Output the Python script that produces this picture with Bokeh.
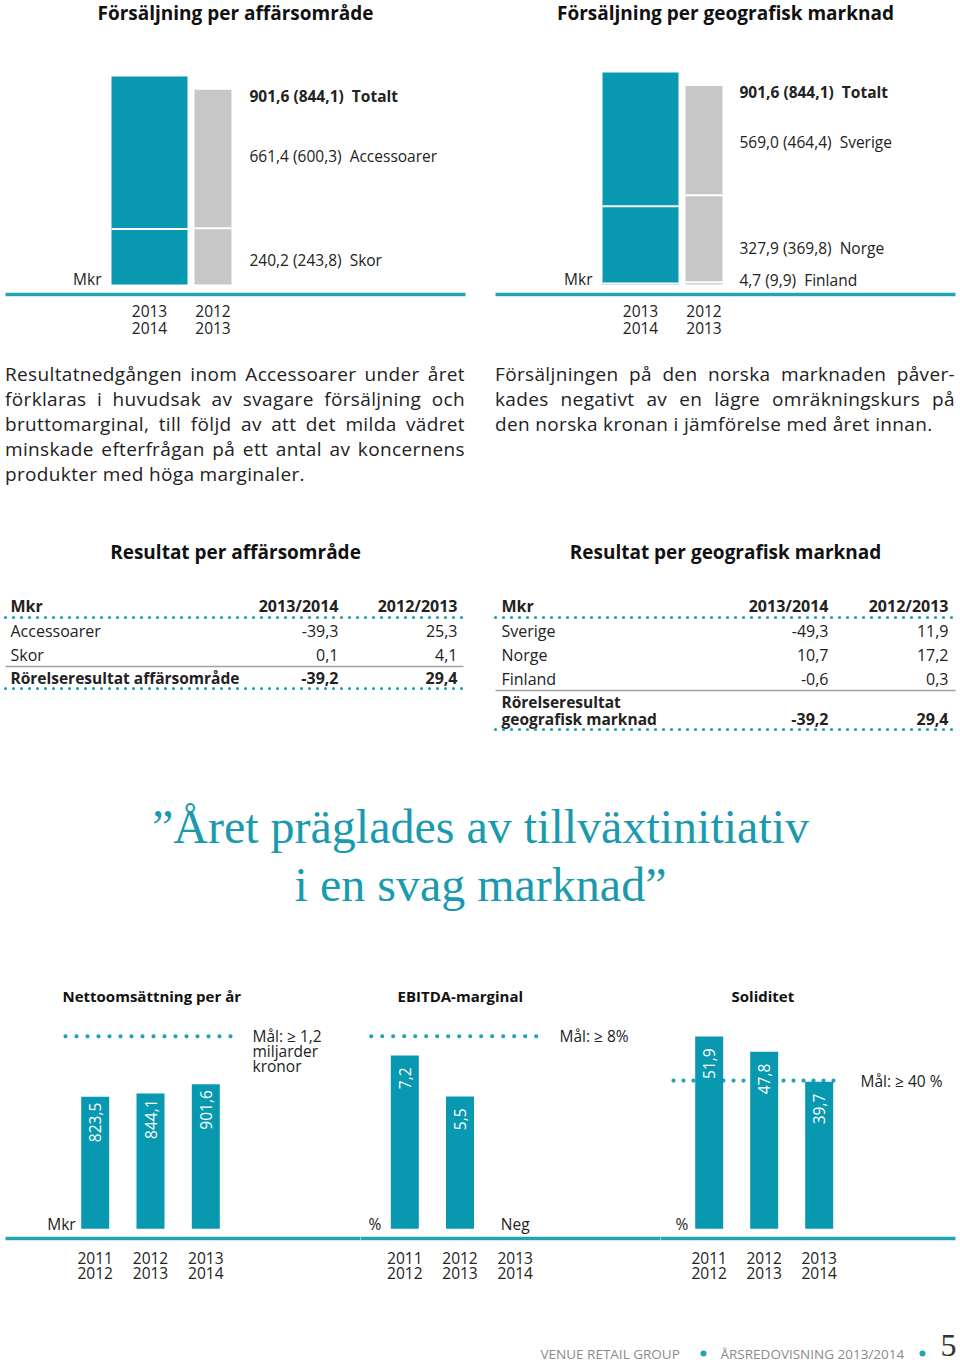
import numpy as np
from bokeh.plotting import figure
from bokeh.models import Range1d, Div
from bokeh.layouts import column, row
from bokeh.core.properties import value
from bokeh.embed import file_html
from bokeh.resources import INLINE

# ---------------- data ----------------
periods_top = ["2013/2014", "2012/2013"]
area_names = ["Skor", "Accessoarer"]            # stacked bottom -> top
area_cur = [240.2, 661.4]
area_prev = [243.8, 600.3]
area_total = [901.6, 844.1]

geo_names = ["Finland", "Norge", "Sverige"]     # stacked bottom -> top
geo_cur = [4.7, 327.9, 569.0]
geo_prev = [9.9, 369.8, 464.4]
geo_total = [901.6, 844.1]

tab_cols = ["2013/2014", "2012/2013"]
res_area_rows = ["Accessoarer", "Skor"]
res_area_cur = [-39.3, 0.1]
res_area_prev = [25.3, 4.1]
res_area_total_label = ["Rörelseresultat affärsområde"]
res_area_total = [-39.2, 29.4]

res_geo_rows = ["Sverige", "Norge", "Finland"]
res_geo_cur = [-49.3, 10.7, -0.6]
res_geo_prev = [11.9, 17.2, 0.3]
res_geo_total_label = ["Rörelseresultat", "geografisk marknad"]
res_geo_total = [-39.2, 29.4]

kpi_periods = ["2011/2012", "2012/2013", "2013/2014"]
net_sales = [823.5, 844.1, 901.6]
net_sales_target = 1200
ebitda = [7.2, 5.5]            # 2013/2014: negative ("Neg")
ebitda_target = 8
solidity = [51.9, 47.8, 39.7]
solidity_target = 40

para_left = ["Resultatnedgången inom Accessoarer under året",
             "förklaras i huvudsak av svagare försäljning och",
             "bruttomarginal, till följd av att det milda vädret",
             "minskade efterfrågan på ett antal av koncernens",
             "produkter med höga marginaler."]
para_right = ["Försäljningen på den norska marknaden påver-",
              "kades negativt av en lägre omräkningskurs på",
              "den norska kronan i jämförelse med året innan."]
quote_lines = ["\u201dÅret präglades av tillväxtinitiativ", "i en svag marknad\u201d"]

# ---------------- style ----------------
TEAL = "#0898b0"
LINE_TEAL = "#22a2b3"
GRAY = "#c7c7c7"
DARK = "#222222"
FONT = "Open Sans"
SERIF = "Liberation Serif"


def fmt(v):
    return f"{v:.1f}".replace(".", ",")


def frame(W, H, xa, xb, ya, yb):
    kx = (xb[1] - xa[1]) / (xb[0] - xa[0])
    ky = (yb[1] - ya[1]) / (yb[0] - ya[0])
    X = lambda px: xa[1] + (px - xa[0]) * kx
    Y = lambda py: ya[1] + (py - ya[0]) * ky
    p = figure(width=W, height=H, x_range=Range1d(X(0), X(W)), y_range=Range1d(Y(H), Y(0)),
               x_axis_type=None, y_axis_type=None, toolbar_location=None,
               output_backend="svg", min_border=0, outline_line_color=None)
    return p, X, Y, kx, ky


def txt(p, xs, ys, texts, size=15, bold=False, align="left", base="middle",
        color=DARK, font=FONT, angle=0.0):
    p.text(x=list(xs), y=list(ys), text=list(texts), text_font=value(font),
           text_font_size=f"{size}px", text_font_style="bold" if bold else "normal",
           text_align=align, text_baseline=base, text_color=color, angle=angle)


def stacked_chart(title, title_cx, bar_cx, bar_w, top_py, names, cur, prev, totals,
                  label_px, mkr_px, base_px0, base_px1):
    W, H = 480, 340
    p, X, Y, kx, ky = frame(W, H, (bar_cx[0], 0), (bar_cx[1], 1), (284, 0), (top_py, totals[0]))
    for i, (vals, col) in enumerate([(cur, TEAL), (prev, GRAY)]):
        v = np.array(vals, float)
        tops = np.cumsum(v)
        bots = tops - v
        w = bar_w[i] * kx
        p.vbar(x=[i] * len(v), bottom=bots, top=tops, width=w, fill_color=col, line_color=None)
        n = len(v) - 1
        p.segment(x0=[i - w / 2] * n, x1=[i + w / 2] * n, y0=tops[:-1], y1=tops[:-1],
                  line_color="white", line_width=2)
    c = np.array(cur, float)
    tops = np.cumsum(c)
    mids = np.maximum(tops - c / 2 + 3 * ky, -5 * ky)
    txt(p, [X(label_px)] * len(c), mids,
        [f"{fmt(a)} ({fmt(b)}) \u00a0{nm}" for nm, a, b in zip(names, cur, prev)], size=15.5)
    txt(p, [X(label_px)], [totals[1] + 6 * ky],
        [f"{fmt(totals[0])} ({fmt(totals[1])}) \u00a0Totalt"], bold=True, size=15.5)
    txt(p, [X(mkr_px)], [-6 * ky], ["Mkr"], align="right", size=15.5)
    txt(p, [0, 1], [Y(310)] * 2, [s.split("/")[0] for s in periods_top], align="center", size=15.5)
    txt(p, [0, 1], [Y(327)] * 2, [s.split("/")[1] for s in periods_top], align="center", size=15.5)
    p.segment(x0=[X(base_px0)], x1=[X(base_px1)], y0=[Y(294)], y1=[Y(294)],
              line_color=LINE_TEAL, line_width=3.5)
    txt(p, [X(title_cx)], [Y(12)], [title], size=19, bold=True, align="center", color="#111111")
    return p


def dotted(p, x0, x1, y, width=3.2, gap=8):
    p.line(x=[x0, x1], y=[y, y], line_color=LINE_TEAL, line_width=width,
           line_dash=f"0 {int(gap)}", line_cap="round")


def table_fig(title, title_cx, x_left, x_c1, x_c2, lx0, lx1, rows, cur, prev, tot_label, totals):
    W, H = 480, 245
    p, X, Y, kx, ky = frame(W, H, (0, 0), (1, 1), (0, 0), (1, 1))
    txt(p, [title_cx], [51], [title], size=19, bold=True, align="center", color="#111111")
    txt(p, [x_left], [105], ["Mkr"], bold=True, size=16)
    txt(p, [x_c1, x_c2], [105, 105], tab_cols, bold=True, align="right", size=16)
    dotted(p, lx0, lx1, 117)
    ys = [130 + 24 * i for i in range(len(rows))]
    txt(p, [x_left] * len(rows), ys, rows, size=16)
    txt(p, [x_c1] * len(rows), ys, [fmt(v) for v in cur], align="right", size=16)
    txt(p, [x_c2] * len(rows), ys, [fmt(v) for v in prev], align="right", size=16)
    gl = ys[-1] + 12
    p.line(x=[lx0, lx1], y=[gl, gl], line_color="#a0a0a0", line_width=1.5)
    ty = [gl + 11 + 17 * i for i in range(len(tot_label))]
    txt(p, [x_left] * len(ty), ty, tot_label, bold=True, size=15.5)
    txt(p, [x_c1, x_c2], [ty[-1]] * 2, [fmt(v) for v in totals], bold=True, align="right", size=16)
    dotted(p, lx0, lx1, ty[-1] + 11)
    return p


def kpi_chart(W, title, title_px, c0, c2, vals, sv, spy, target, tx0, tx1, tgap,
              target_lines, tl_px, unit, unit_px, off, bx0, bx1, neg_label=None):
    H = 330
    p, X, Y, kx, ky = frame(W, H, (c0, 0), (c2, 2), (268.3, 0), (spy, sv))
    dotted(p, X(tx0), X(tx1), target, width=4.2, gap=tgap)
    idx = list(range(len(vals)))
    p.vbar(x=idx, bottom=0, top=vals, width=28 * kx, fill_color=TEAL, line_color=None)
    txt(p, idx, [v + off * ky for v in vals], [fmt(v) for v in vals], color="white",
        align="right", angle=np.pi / 2, size=15.5)
    txt(p, [X(tl_px)] * len(target_lines), [target + 15 * k * ky for k in range(len(target_lines))],
        target_lines, size=15.5)
    txt(p, [X(unit_px)], [-5 * ky], [unit], size=15.5)
    if neg_label:
        txt(p, [len(vals)], [-5 * ky], [neg_label], align="center", size=15.5)
    n = len(kpi_periods)
    txt(p, range(n), [Y(297)] * n, [s.split("/")[0] for s in kpi_periods], align="center", size=15.5)
    txt(p, range(n), [Y(312)] * n, [s.split("/")[1] for s in kpi_periods], align="center", size=15.5)
    p.segment(x0=[X(bx0)], x1=[X(bx1)], y0=[Y(278)], y1=[Y(278)], line_color=LINE_TEAL, line_width=3.5)
    txt(p, [X(title_px)], [Y(35)], [title], bold=True, color="#111111", size=15)
    return p


def para_div(lines, ml):
    inner = ""
    for i, ln in enumerate(lines):
        al = "left" if i == len(lines) - 1 else "justify"
        inner += (f'<div style="text-align:{al};text-align-last:{al};white-space:nowrap;">'
                  f'{ln}</div>')
    html = (f'<div style="font-family:\'{FONT}\';font-size:19px;letter-spacing:0.35px;'
            f'line-height:25px;color:{DARK};width:460px;margin-left:{ml}px;padding-top:22px;">'
            f'{inner}</div>')
    return Div(text=html, width=480, height=160, margin=(0, 0, 0, 0))


# ---------------- row 1: stacked sales ----------------
f_area = stacked_chart("Försäljning per affärsområde", 235, (149, 212.5), (76, 37), 76,
                       area_names, area_cur, area_prev, area_total, 249, 101, 5, 465)
f_geo = stacked_chart("Försäljning per geografisk marknad", 245, (160, 223.5), (76, 37), 72,
                      geo_names, geo_cur, geo_prev, geo_total, 259, 112, 15, 475)

# ---------------- row 2: paragraphs ----------------
d_left = para_div(para_left, 5)
d_right = para_div(para_right, 15)

# ---------------- row 3: tables ----------------
t_area = table_fig("Resultat per affärsområde", 235, 10, 338, 457, 5, 463,
                   res_area_rows, res_area_cur, res_area_prev, res_area_total_label, res_area_total)
t_geo = table_fig("Resultat per geografisk marknad", 245, 21, 348, 468, 15, 475,
                  res_geo_rows, res_geo_cur, res_geo_prev, res_geo_total_label, res_geo_total)

# ---------------- row 4: quote ----------------
q, qX, qY, _, _ = frame(960, 215, (0, 0), (1, 1), (0, 0), (1, 1))
txt(q, [480, 480], [81, 139], quote_lines, size=48, align="center",
    color="#1a9aae", font=SERIF)

# ---------------- row 5: KPI charts ----------------
k1 = kpi_chart(360, "Nettoomsättning per år", 62, 94.7, 205.3, net_sales, 901.6, 123.7,
               net_sales_target, 65, 233, 11, ["Mål: ≥ 1,2", "miljarder", "kronor"], 252,
               "Mkr", 46.7, 6, 5, 362)
k2 = kpi_chart(300, "EBITDA-marginal", 37, 44.3, 154.7, ebitda, 7.2, 95,
               ebitda_target, 10.7, 181.7, 11, ["Mål: ≥ 8%"], 199, "%", 8, 12, -2, 302,
               neg_label="Neg")
k3 = kpi_chart(300, "Soliditet", 71, 48.7, 158.7, solidity, 51.9, 76,
               solidity_target, 13, 183, 10, ["Mål: ≥ 40 %"], 200, "%", 15, 12, -2, 295)

# ---------------- row 6: footer ----------------
ft, _, _, _, _ = frame(960, 76, (0, 0), (1, 1), (0, 0), (1, 1))
txt(ft, [540, 720], [63, 63], ["VENUE RETAIL GROUP", "ÅRSREDOVISNING 2013/2014"], size=13.5,
    color="#8a8a8a")
ft.scatter(x=[703, 922], y=[63, 63], size=6, fill_color=LINE_TEAL, line_color=None)
txt(ft, [940], [55], ["5"], size=32, color="#333333", font=SERIF)

layout = column(row(f_area, f_geo), row(d_left, d_right), row(t_area, t_geo), q,
                row(k1, k2, k3), ft)

open("out.html", "w").write(file_html(layout, INLINE))
